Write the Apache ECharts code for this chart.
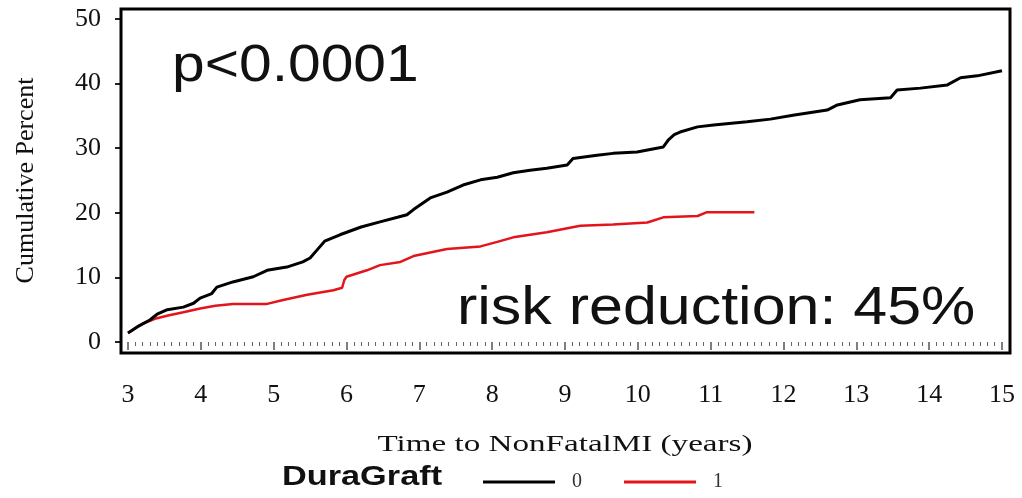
<!DOCTYPE html>
<html>
<head>
<meta charset="utf-8">
<title>Cumulative incidence of non-fatal MI by DuraGraft group</title>
<script src="https://cdn.jsdelivr.net/npm/echarts@6/dist/echarts.min.js"></script>
<style>
  html, body { margin: 0; padding: 0; background: #fff; }
  #chart { width: 1022px; height: 498px; }
</style>
</head>
<body>
<div id="chart"></div>
<script>
// Time from baseline (years) and cumulative percent with a non-fatal MI
const group0Time = [3.00, 3.15, 3.30, 3.40, 3.54, 3.76, 3.90, 3.99, 4.15, 4.22, 4.44, 4.72, 4.91, 5.18, 5.40, 5.50, 5.60, 5.70, 5.91, 6.20, 6.46, 6.70, 6.83, 6.92, 7.15, 7.38, 7.60, 7.84, 8.07, 8.29, 8.52, 8.75, 9.03, 9.11, 9.44, 9.66, 9.99, 10.35, 10.42, 10.50, 10.58, 10.82, 11.04, 11.50, 11.82, 12.13, 12.60, 12.74, 13.05, 13.47, 13.56, 13.88, 14.25, 14.43, 14.66, 15.00];
const group0Pct  = [1.4, 2.5, 3.4, 4.3, 5.0, 5.4, 6.0, 6.8, 7.5, 8.5, 9.3, 10.1, 11.1, 11.6, 12.4, 13.0, 14.3, 15.6, 16.6, 17.8, 18.6, 19.3, 19.7, 20.5, 22.3, 23.2, 24.3, 25.1, 25.5, 26.2, 26.6, 26.9, 27.4, 28.4, 28.9, 29.2, 29.4, 30.2, 31.3, 32.1, 32.5, 33.3, 33.6, 34.1, 34.5, 35.1, 35.9, 36.7, 37.5, 37.8, 39.0, 39.3, 39.8, 40.9, 41.2, 42.0];

const group1Time = [3.00, 3.07, 3.20, 3.37, 3.55, 3.76, 3.99, 4.20, 4.44, 4.91, 5.13, 5.46, 5.82, 5.94, 5.97, 6.00, 6.28, 6.46, 6.74, 6.92, 7.38, 7.84, 8.07, 8.29, 8.75, 9.21, 9.66, 10.13, 10.35, 10.82, 10.95, 11.60];
const group1Pct  = [1.4, 1.9, 2.8, 3.6, 4.1, 4.6, 5.2, 5.6, 5.9, 5.9, 6.5, 7.3, 8.0, 8.4, 9.6, 10.1, 11.1, 11.9, 12.4, 13.3, 14.4, 14.8, 15.5, 16.2, 17.0, 18.0, 18.2, 18.5, 19.3, 19.5, 20.1, 20.1];

const groupNames = ['0', '1'];
const xTicks = { min: 3, max: 15, step: 1 };
const yTicks = { min: 0, max: 50, step: 10 };

const xTitle = 'Time to NonFatalMI (years)';
const yTitle = 'Cumulative Percent';
const legendTitle = 'DuraGraft';
const pValueText = 'p<0.0001';
const riskText = 'risk reduction: 45%';

function pairs(t, v) { return t.map((x, i) => [x, v[i]]); }

const W = 1022, H = 498;
// plotting area and the surrounding frame (pixels)
const plot = { left: 128, right: 1002, top: 19, bottom: 342 };
const frame = { left: 121, right: 1010, top: 9, bottom: 353 };

const serif = '"Liberation Serif", "Times New Roman", serif';
const sans = '"Liberation Sans", Arial, sans-serif';

const chart = echarts.init(document.getElementById('chart'), null, { renderer: 'canvas' });

chart.setOption({
  animation: false,
  backgroundColor: '#ffffff',
  grid: {
    left: plot.left,
    right: W - plot.right,
    top: plot.top,
    bottom: H - plot.bottom,
    containLabel: false,
    outerBoundsMode: 'none'
  },
  xAxis: {
    type: 'value',
    min: xTicks.min,
    max: xTicks.max,
    interval: xTicks.step,
    offset: frame.bottom - plot.bottom,
    axisLine: { show: false },
    axisTick: { show: true, length: 8, lineStyle: { color: '#555', width: 1.5 } },
    minorTick: { show: true, splitNumber: 10, length: 4, lineStyle: { color: '#666', width: 1 } },
    splitLine: { show: false },
    axisLabel: {
      margin: 29,
      fontFamily: serif,
      fontSize: 26,
      color: '#111'
    }
  },
  yAxis: {
    type: 'value',
    min: yTicks.min,
    max: yTicks.max,
    interval: yTicks.step,
    offset: plot.left - frame.left,
    axisLine: { show: false },
    axisTick: { show: true, length: 6, lineStyle: { color: '#222', width: 2 } },
    splitLine: { show: false },
    axisLabel: {
      margin: 20,
      fontFamily: serif,
      fontSize: 26,
      color: '#111'
    },
    name: yTitle,
    nameLocation: 'middle',
    nameRotate: 90,
    nameGap: 82,
    nameTextStyle: { fontFamily: serif, fontSize: 26, color: '#111' }
  },
  legend: {
    data: groupNames,
    left: 483,
    top: 472,
    padding: 0,
    icon: 'rect',
    itemWidth: 72,
    itemHeight: 3,
    itemGap: 42,
    selectedMode: false,
    textStyle: {
      fontFamily: serif,
      fontSize: 20,
      color: '#333',
      padding: [0, 0, 0, 12]
    }
  },
  series: [
    {
      name: groupNames[0],
      type: 'line',
      data: pairs(group0Time, group0Pct),
      showSymbol: false,
      symbol: 'none',
      lineStyle: { color: '#000000', width: 3 },
      itemStyle: { color: '#000000' },
      z: 3
    },
    {
      name: groupNames[1],
      type: 'line',
      data: pairs(group1Time, group1Pct),
      showSymbol: false,
      symbol: 'none',
      lineStyle: { color: '#e3141c', width: 2.5 },
      itemStyle: { color: '#e3141c' },
      z: 2
    }
  ],
  graphic: [
    {
      type: 'rect',
      shape: {
        x: frame.left,
        y: frame.top,
        width: frame.right - frame.left,
        height: frame.bottom - frame.top
      },
      style: { fill: 'none', stroke: '#000', lineWidth: 3 },
      z: 10,
      silent: true
    },
    {
      type: 'text',
      x: 172, y: 67, scaleX: 1.13,
      style: { text: pValueText, font: '52px ' + sans, fill: '#111', textAlign: 'left', textVerticalAlign: 'middle' },
      silent: true
    },
    {
      type: 'text',
      x: 457, y: 309, scaleX: 1.15,
      style: { text: riskText, font: '53px ' + sans, fill: '#111', textAlign: 'left', textVerticalAlign: 'middle' },
      silent: true
    },
    {
      type: 'text',
      x: 565, y: 445, scaleX: 1.38,
      style: { text: xTitle, font: '24px ' + serif, fill: '#111', textAlign: 'center', textVerticalAlign: 'middle' },
      silent: true
    },
    {
      type: 'text',
      x: 282, y: 478, scaleX: 1.27,
      style: { text: legendTitle, font: 'bold 27px ' + sans, fill: '#111', textAlign: 'left', textVerticalAlign: 'middle' },
      silent: true
    }
  ]
});
</script>
</body>
</html>
